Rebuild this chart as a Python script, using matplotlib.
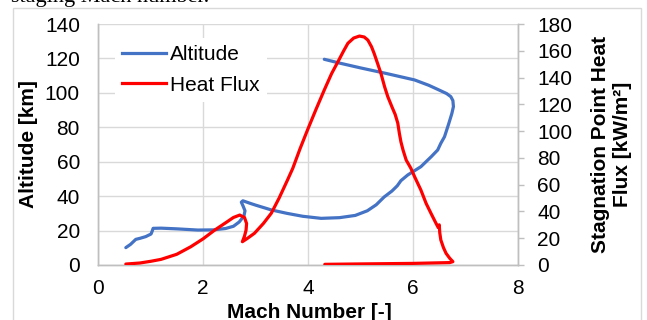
import matplotlib
matplotlib.use("Agg")
import matplotlib.pyplot as plt
from matplotlib.patches import Rectangle
from matplotlib.lines import Line2D

plt.rcParams['font.family'] = ['Liberation Sans', 'DejaVu Sans']

# ---- data ----
alt_mach = [0.53, 0.62, 0.72, 0.80, 0.91, 1.01, 1.03, 1.05, 1.20, 1.50, 1.90, 2.20,
            2.43, 2.58, 2.69, 2.78, 2.80, 2.76, 2.73, 2.76, 2.90, 3.00, 3.30, 3.60,
            3.90, 4.25, 4.60, 4.90, 5.13, 5.30, 5.45, 5.60, 5.70, 5.77, 5.90, 6.15,
            6.35, 6.47, 6.53, 6.60, 6.68, 6.74, 6.77, 6.76, 6.72, 6.64, 6.50, 6.30,
            6.03, 5.50, 5.00, 4.60, 4.31]
altitude_km = [10.1, 12.0, 14.9, 15.5, 16.5, 18.0, 19.5, 21.3, 21.4, 21.0, 20.3, 20.4,
               21.2, 22.5, 25.0, 28.5, 31.5, 34.5, 36.5, 37.3, 35.8, 34.8, 32.0, 30.0,
               28.3, 27.1, 27.5, 28.8, 31.5, 35.0, 39.5, 43.0, 46.0, 49.0, 52.3, 57.1,
               63.0, 66.8, 70.7, 74.5, 82.0, 88.0, 92.0, 95.5, 97.8, 99.6, 101.6, 104.4,
               107.5, 111.2, 114.5, 117.3, 119.5]

hf_mach = [0.53, 0.80, 1.01, 1.20, 1.50, 1.77, 2.00, 2.22, 2.43, 2.58, 2.70, 2.79,
           2.83, 2.82, 2.79, 2.75, 2.85, 2.98, 3.15, 3.30, 3.45, 3.61, 3.71, 3.85,
           3.99, 4.15, 4.31, 4.45, 4.57, 4.68, 4.76, 4.87, 4.98, 5.07, 5.14, 5.21,
           5.26, 5.33, 5.39, 5.46, 5.52, 5.60, 5.66, 5.71, 5.74, 5.77, 5.81, 5.87,
           5.96, 6.03, 6.15, 6.25, 6.35, 6.44, 6.48, 6.50, 6.51, 6.53, 6.58, 6.63,
           6.70, 6.76, 6.70, 6.00, 5.00, 4.32]
heat_flux = [0.7, 1.5, 2.8, 4.2, 8.0, 13.7, 19.5, 26.0, 31.5, 35.5, 37.3, 35.5,
             31.0, 26.0, 21.5, 17.4, 20.0, 23.7, 31.0, 38.6, 50.0, 63.5, 72.2, 87.0,
             100.8, 116.0, 130.7, 143.0, 151.8, 160.0, 165.6, 169.5, 171.0, 170.3, 168.0, 163.0,
             158.0, 150.0, 143.0, 133.0, 125.7, 118.0, 112.5, 106.0, 98.4, 92.0, 85.9, 78.4,
             72.2, 66.0, 56.0, 46.0, 38.0, 31.0, 28.0, 30.0, 24.0, 18.7, 13.0, 8.7,
             5.0, 2.5, 1.8, 1.2, 0.8, 0.5]

x_ticks = [0, 2, 4, 6, 8]
alt_ticks = [0, 20, 40, 60, 80, 100, 120, 140]
hf_ticks = [0, 20, 40, 60, 80, 100, 120, 140, 160, 180]

BLUE = '#4472C4'
RED = '#FF0000'
GRID = '#D9D9D9'
SPINE = '#BFBFBF'
FS = 15

W, H = 647, 320
fig = plt.figure(figsize=(W / 100, H / 100), dpi=100)
L, R, B, T = 98, 518, 265, 24
ax = fig.add_axes([L / W, 1 - B / H, (R - L) / W, (B - T) / H])
ax2 = ax.twinx()

ax.plot(alt_mach, altitude_km, color=BLUE, lw=2.3, solid_joinstyle='round',
        solid_capstyle='round', zorder=3)
ax2.plot(hf_mach, heat_flux, color=RED, lw=2.3, solid_joinstyle='round',
         solid_capstyle='round', zorder=3)

ax.set_xlim(0, 8)
ax.set_ylim(0, 140)
ax2.set_ylim(0, 180)
ax.set_xticks(x_ticks)
ax.set_yticks(alt_ticks)
ax2.set_yticks(hf_ticks)

ax.grid(True, color=GRID, lw=1.0)
ax.set_axisbelow(True)
for a in (ax, ax2):
    a.spines['top'].set_visible(False)
    for s in ('left', 'right', 'bottom'):
        a.spines[s].set_color(SPINE)
        a.spines[s].set_linewidth(1.0)
ax.tick_params(axis='both', length=0, labelsize=FS, colors='black')
ax.tick_params(axis='y', pad=13)
ax.tick_params(axis='x', pad=10)
ax2.tick_params(axis='y', length=4, width=1, color=SPINE, labelsize=FS, pad=10, direction='out')

fig.text(28 / W, 1 - 144 / H, 'Altitude [km]', rotation=90, ha='center', va='center',
         fontsize=FS, fontweight='bold')
fig.text(611 / W, 1 - 144 / H, 'Stagnation Point Heat\nFlux [kW/m²]', rotation=90,
         ha='center', va='center', fontsize=FS, fontweight='bold', linespacing=1.2)
fig.text(309 / W, 1 - 312 / H, 'Mach Number [-]', ha='center', va='center',
         fontsize=FS, fontweight='bold')

handles = [Line2D([], [], color=BLUE, lw=2.3), Line2D([], [], color=RED, lw=2.3)]
leg = ax2.legend(handles, ['Altitude', 'Heat Flux'], loc='upper left',
                 bbox_to_anchor=(0.04, 0.942), borderaxespad=0, fontsize=FS,
                 frameon=True, facecolor='white', edgecolor='none', framealpha=1,
                 fancybox=False, handlelength=2.1, handletextpad=0.2,
                 labelspacing=0.55, borderpad=0.35)

fig.patches.append(Rectangle((12.5 / W, -0.1), (641 - 12.5) / W, 1.1 - 7.5 / H,
                             transform=fig.transFigure, fill=False,
                             edgecolor=GRID, lw=1.0))
fig.text(11 / W, 1 - 2 / H, 'staging Mach number.', family='Liberation Serif',
         fontsize=16, va='baseline', ha='left')

fig.savefig('out.png', dpi=100)
